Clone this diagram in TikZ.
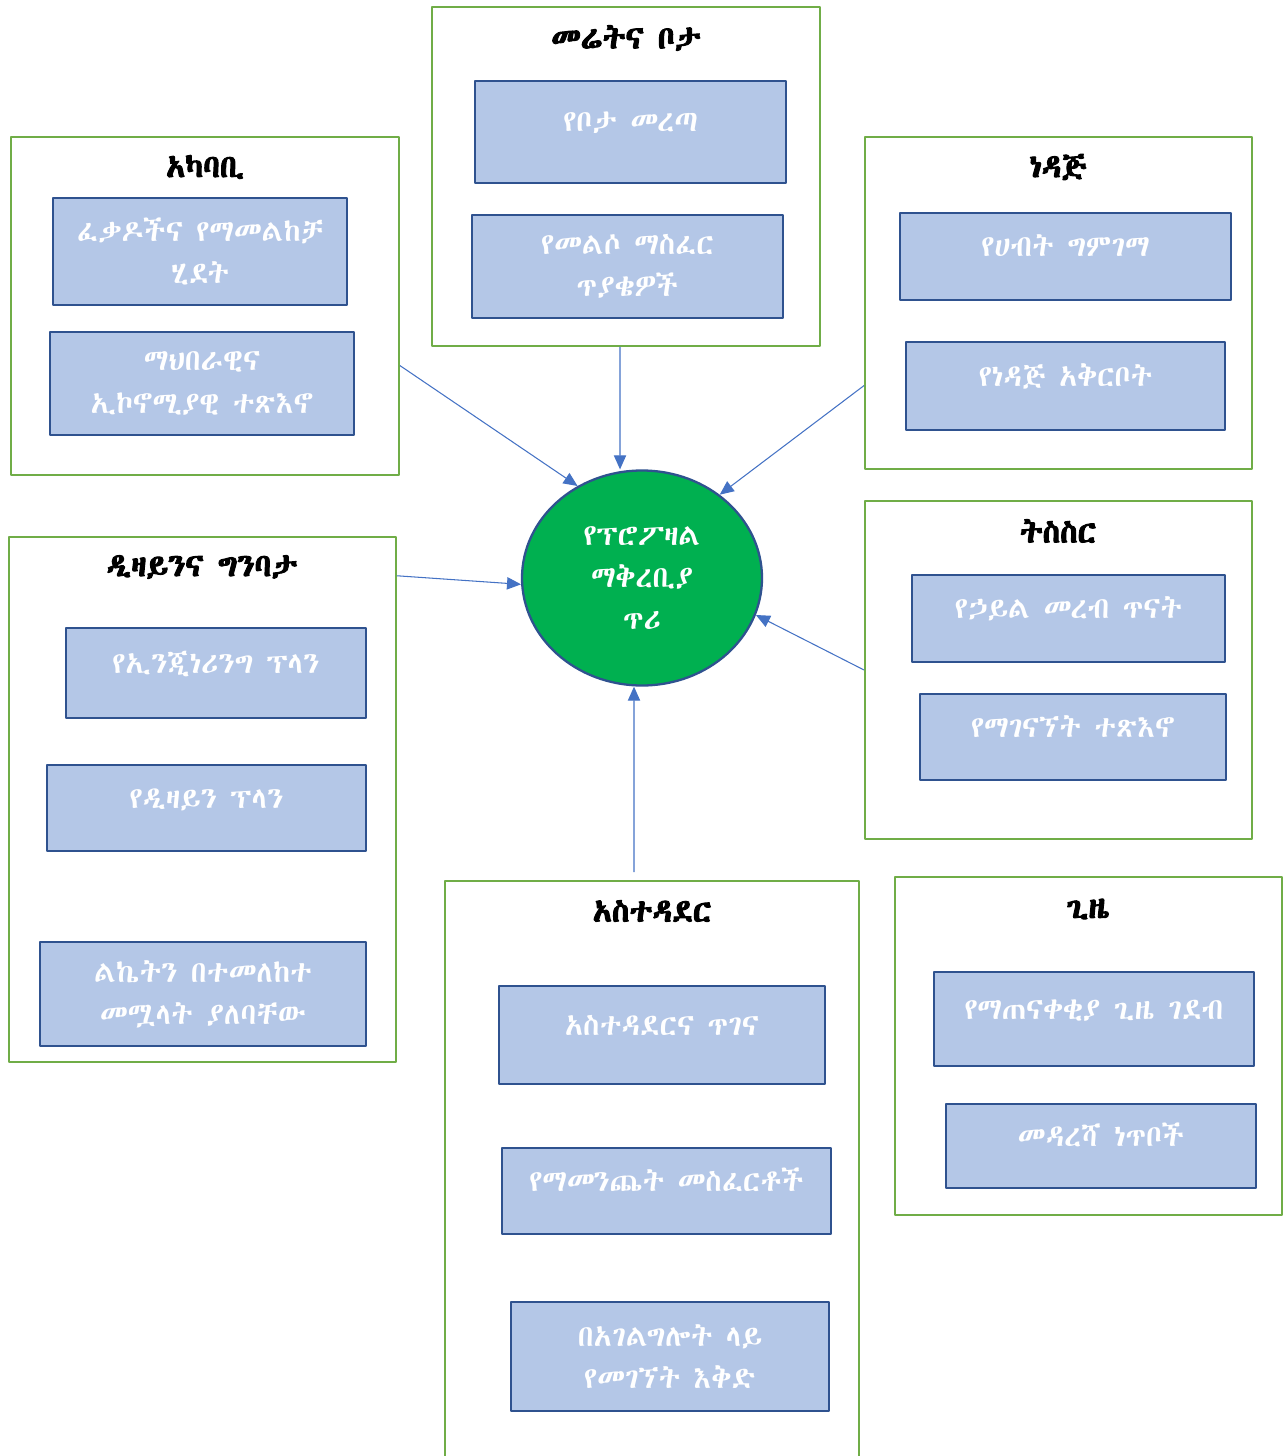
\documentclass[tikz,border=0pt]{standalone}
\usepackage{fontspec}
\usetikzlibrary{arrows.meta,shapes.geometric}
\newfontfamily\ethfont[AutoFakeBold=3]{Abyssinica SIL}
\definecolor{grpline}{HTML}{70AD47}
\definecolor{itemfill}{HTML}{B4C7E7}
\definecolor{itemline}{HTML}{2F528F}
\definecolor{goalfill}{HTML}{00B050}
\definecolor{arrline}{HTML}{4472C4}
\def\px{0.02cm}
\begin{document}
\begin{tikzpicture}[x=0.02cm, y=-0.02cm, line join=round,
  group/.style 2 args={draw=grpline, line width=1.1pt, inner sep=0pt, minimum width=#1*\px, minimum height=#2*\px},
  head/.style={font=\ethfont\bfseries\fontsize{18}{22}\selectfont},
  item/.style 2 args={draw=itemline, fill=itemfill, line width=1.6pt, text=white, align=center, inner sep=0pt,
    minimum width=#1*\px, minimum height=#2*\px, font=\ethfont\fontsize{17}{24}\selectfont},
  one/.style={text height=0.4cm, text depth=0.4cm},
  arr/.style={draw=arrline, line width=0.6pt, -{Triangle[length=8pt, width=7pt]}}]
\useasboundingbox (0,0) rectangle (1284,1456);
% groups
\node[group={388}{339}] (land) at (626,176.5) {};
\node[group={388}{338}] (env) at (205,306) {};
\node[group={387}{332}] (fuel) at (1058.5,303) {};
\node[group={387}{338}] (link) at (1058.5,670) {};
\node[group={387}{525}] (design) at (202.5,799.5) {};
\node[group={414}{589}] (admin) at (652,1175.5) {};
\node[group={387}{338}] (time) at (1088.5,1046) {};
\node[head] (landT) at (626,38) {መሬትና ቦታ};
\node[head] (envT) at (205,167) {አካባቢ};
\node[head] (fuelT) at (1058,167) {ነዳጅ};
\node[head] (linkT) at (1058,531) {ትስስር};
\node[head] (designT) at (202,567) {ዲዛይንና ግንባታ};
\node[head] (adminT) at (652,911) {አስተዳደር};
\node[head] (timeT) at (1088,909) {ጊዜ};
% items
\node[item={311}{102}, one] (site) at (630.5,132) {የቦታ መረጣ};
\node[item={311}{103}] (resettle) at (627.5,266.5) {የመልሶ ማስፈር\\ጥያቄዎች};
\node[item={294}{107}] (permit) at (200,251.5) {ፈቃዶችና የማመልከቻ\\ሂደት};
\node[item={304}{103}] (impact) at (202,383.5) {ማህበራዊና\\ኢኮኖሚያዊ ተጽእኖ};
\node[item={331}{87}, one] (resource) at (1065.5,256.5) {የሀብት ግምገማ};
\node[item={319}{88}, one] (supply) at (1065.5,386) {የነዳጅ አቅርቦት};
\node[item={313}{87}, one] (grid) at (1068.5,618.5) {የኃይል መረብ ጥናት};
\node[item={306}{86}, one] (connect) at (1073,737) {የማገናኘት ተጽእኖ};
\node[item={300}{90}, one] (engplan) at (216,673) {የኢንጂነሪንግ ፕላን};
\node[item={319}{86}, one] (desplan) at (206.5,808) {የዲዛይን ፕላን};
\node[item={326}{104}] (sizing) at (203,994) {ልኬትን በተመለከተ\\መሟላት ያለባቸው};
\node[item={326}{98}, one] (maint) at (662,1035) {አስተዳደርና ጥገና};
\node[item={329}{86}, one] (genreq) at (666.5,1191) {የማመንጨት መስፈርቶች};
\node[item={318}{109}] (avail) at (670,1356.5) {በአገልግሎት ላይ\\የመገኘት እቅድ};
\node[item={320}{94}, one] (deadline) at (1094,1019) {የማጠናቀቂያ ጊዜ ገደብ};
\node[item={310}{84}, one] (milestone) at (1101,1146) {መዳረሻ ነጥቦች};
% centre
\node[ellipse, draw=itemline, fill=goalfill, line width=1.3pt, inner sep=0pt, minimum width=240*\px, minimum height=215*\px,
  text=white, align=center, font=\ethfont\fontsize{17}{24}\selectfont] (goal) at (642,578) {የፕሮፖዛል\\ማቅረቢያ\\ጥሪ};
\draw[arr] (env.-17) -- (goal.125);
\draw[arr] ([xshift=-0.12cm]land.south) -- ([xshift=-0.44cm]goal.north);
\draw[arr] (fuel.203) -- (goal.47);
\draw[arr] (design.49) -- (goal.183);
\draw[arr] (link.west) -- (goal.-18);
\draw[arr] ([xshift=-0.36cm, yshift=0.16cm]admin.north) -- ([xshift=-0.16cm]goal.south);
\end{tikzpicture}
\end{document}
